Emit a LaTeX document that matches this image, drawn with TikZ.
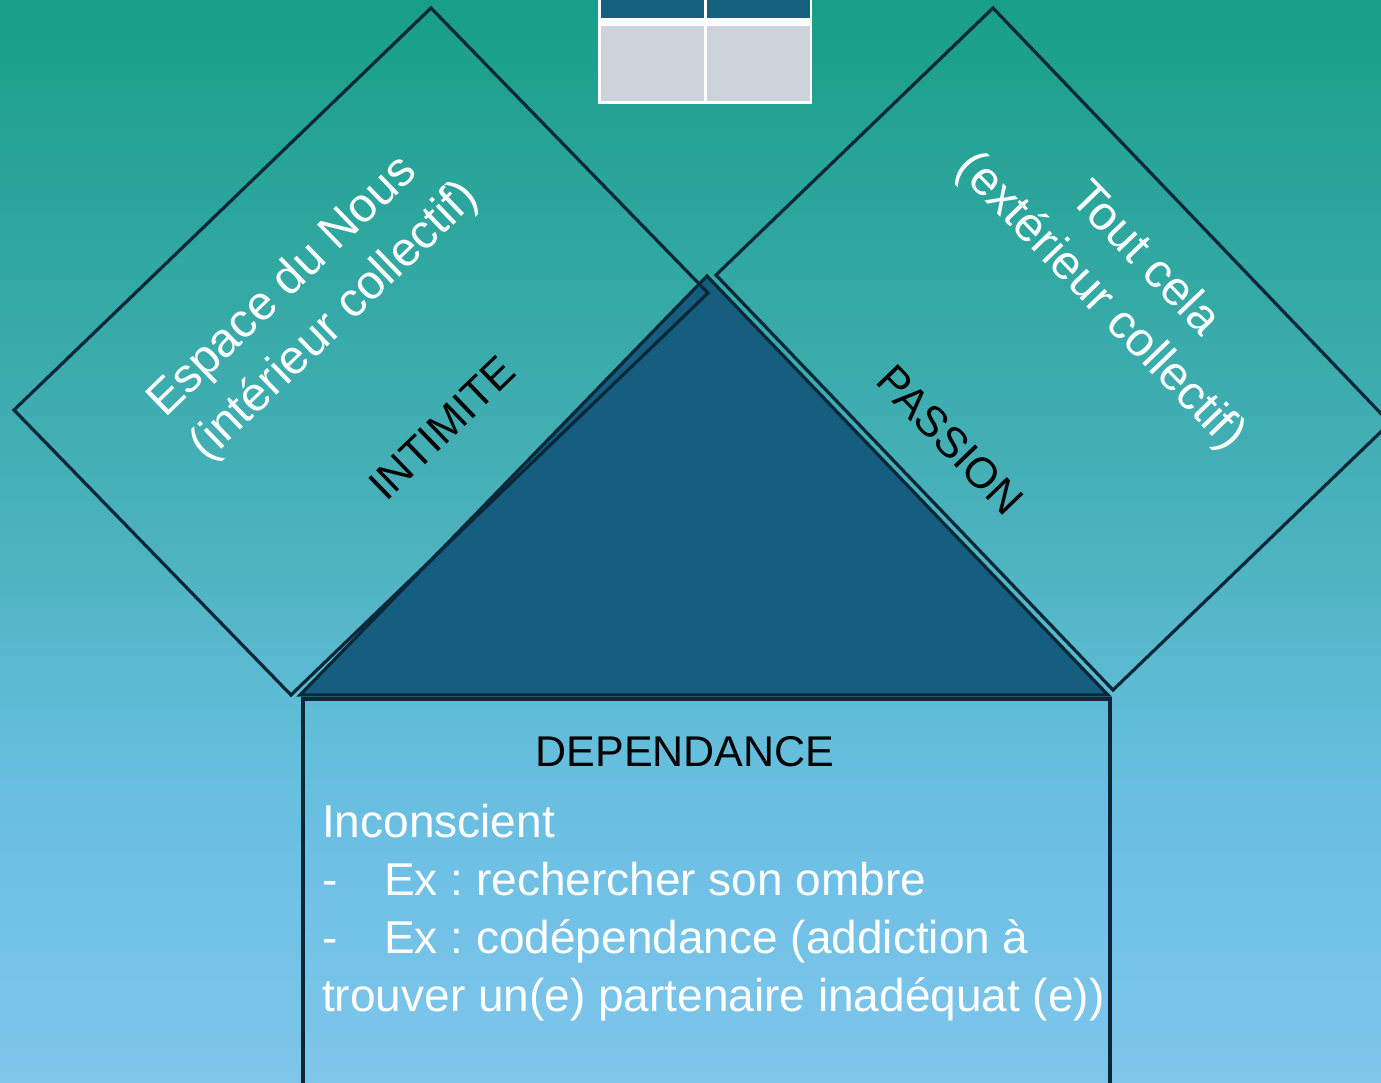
\documentclass[tikz,border=0pt]{standalone}
\usepackage{fontspec}
\setmainfont{Liberation Sans}
\frenchspacing
\definecolor{bgA}{RGB}{24,158,136}
\definecolor{bgB}{RGB}{76,178,190}
\definecolor{bgC}{RGB}{100,190,220}
\definecolor{bgD}{RGB}{112,192,230}
\definecolor{bgE}{RGB}{127,198,234}
\definecolor{edgecol}{RGB}{11,40,56}
\definecolor{trifill}{RGB}{22,94,127}
\definecolor{hdrcol}{RGB}{22,96,127}
\definecolor{cellgray}{RGB}{206,210,218}
\pgfdeclareverticalshading{bgshade}{100bp}{color(0bp)=(bgE); color(25bp)=(bgE); color(34.3bp)=(bgD); color(40.3bp)=(bgC); color(50bp)=(bgB); color(75bp)=(bgA); color(100bp)=(bgA)}
\tikzset{
  edgeline/.style={draw=edgecol, line width=3.2bp, line join=miter},
  rottext/.style={text=white, font=\fontsize{48bp}{61bp}\selectfont, inner sep=0pt},
  labeltext/.style={text=black, font=\fontsize{43bp}{52bp}\selectfont, inner sep=0pt},
  bodytext/.style={text=white, font=\fontsize{46bp}{58bp}\selectfont, inner sep=0pt, anchor=base west},
}
\begin{document}
\begin{tikzpicture}[x=1bp,y=-1bp]
\useasboundingbox (0,0) rectangle (1381,1082);
\clip (0,0) rectangle (1381,1082);
\shade[shading=bgshade] (0,0) rectangle (1381,1082);
% table at top
\fill[white] (598,-10) rectangle (812,104);
\fill[hdrcol] (601,-10) rectangle (704,18);
\fill[hdrcol] (707,-10) rectangle (810,18);
\fill[cellgray] (601,26) rectangle (704,101);
\fill[cellgray] (707,26) rectangle (810,101);
% coordinates
\coordinate (L1) at (431,8);
\coordinate (L2) at (14,410);
\coordinate (L3) at (291,695);
\coordinate (L4) at (708,293);
\coordinate (R1) at (993,8);
\coordinate (R2) at (716,275);
\coordinate (R3) at (1113,690);
\coordinate (R4) at (1390,423);
\coordinate (T1) at (707,276);
\coordinate (T2) at (300,695);
\coordinate (T3) at (1108,695);
\coordinate (B1) at (303,1100);
\coordinate (B2) at (303,699);
\coordinate (B3) at (1110,699);
\coordinate (B4) at (1110,1100);
% triangle
\filldraw[edgeline, fill=trifill] (T1) -- (T2) -- (T3) -- cycle;
% squares
\draw[edgeline] (L1) -- (L2) -- (L3) -- (L4) -- cycle;
\draw[edgeline] (R1) -- (R2) -- (R3) -- (R4) -- cycle;
% rectangle
\draw[edgeline] (B1) -- (B2) -- (B3) -- (B4);
% texts
\node[rottext, rotate=44, align=left] (nous) at (314,300) {Espace du Nous\\(intérieur collectif)};
\node[rottext, rotate=-46, align=center] (cela) at (1122,281) {Tout cela\\(extérieur collectif)};
\node[labeltext, rotate=44] (intimite) at (442,428) {INTIMITE};
\node[labeltext, rotate=-46] (passion) at (950,440) {PASSION};
\node[labeltext, anchor=base] (dep) at (685,766) {DEPENDANCE};
\node[bodytext] (b1) at (322,837) {Inconscient};
\node[bodytext] (b2) at (322,895) {\makebox[62bp][l]{-}Ex : rechercher son ombre};
\node[bodytext] (b3) at (322,953) {\makebox[62bp][l]{-}Ex : codépendance (addiction à};
\node[bodytext] (b4) at (322,1011) {trouver un(e) partenaire inadéquat (e))};
\end{tikzpicture}
\end{document}
